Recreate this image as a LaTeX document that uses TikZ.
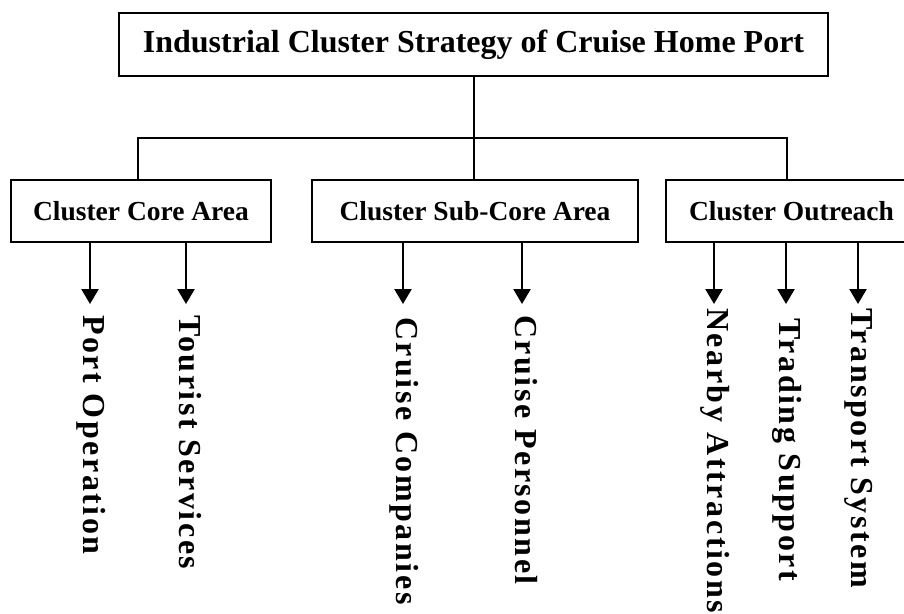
\documentclass[tikz,border=0pt]{standalone}
\usepackage{fontspec}
\setmainfont{Liberation Serif}
\newfontfamily\spacedfont{Liberation Serif}[LetterSpace=8]
\usetikzlibrary{arrows.meta}
\begin{document}
\begin{tikzpicture}[x=1pt,y=-1pt,
  box/.style={draw,line width=1.8pt,inner sep=0pt,font=\fontsize{27.5}{32}\selectfont\bfseries,minimum height=62pt},
  titlebox/.style={draw,line width=1.8pt,inner sep=0pt,font=\fontsize{32}{38}\selectfont\bfseries,minimum height=63pt,minimum width=709pt},
  conn/.style={line width=1.8pt},
  arr/.style={line width=2.4pt,-{Triangle[width=17pt,length=15pt]}},
  leaf/.style={rotate=-90,anchor=west,inner sep=0pt,font=\spacedfont\fontsize{32}{38}\selectfont\bfseries,text height=22pt,text depth=8pt}
]
\useasboundingbox (0,0) rectangle (904,613);

\node[titlebox] (top) at (473.5,44.5) {Industrial Cluster Strategy of Cruise Home Port};
\node[box,minimum width=260pt] (core) at (141,211) {Cluster Core Area};
\node[box,minimum width=326pt] (sub) at (475,211) {Cluster Sub-Core Area};
\node[box,minimum width=251pt] (out) at (791.5,211) {Cluster Outreach};

\coordinate (jl) at (138,138);
\coordinate (jm) at (474,138);
\coordinate (jr) at (787,138);
\draw[conn] (top.south -| jm) -- (sub.north -| jm);
\draw[conn] (core.north -| jl) -- (jl) -- (jr) -- (out.north -| jr);

% leaf tips
\coordinate (t1) at (90,304);
\coordinate (t2) at (186,304);
\coordinate (t3) at (403,304);
\coordinate (t4) at (522,304);
\coordinate (t5) at (714,304);
\coordinate (t6) at (786,304);
\coordinate (t7) at (858,304);

\draw[arr] (core.south -| t1) -- (t1);
\draw[arr] (core.south -| t2) -- (t2);
\draw[arr] (sub.south -| t3) -- (t3);
\draw[arr] (sub.south -| t4) -- (t4);
\draw[arr] (out.south -| t5) -- (t5);
\draw[arr] (out.south -| t6) -- (t6);
\draw[arr] (out.south -| t7) -- (t7);

\node[leaf] (l1) at (90,315) {Port Operation};
\node[leaf] (l2) at (186,315) {Tourist Services};
\node[leaf] (l3) at (403,317) {Cruise Companies};
\node[leaf] (l4) at (522,315) {Cruise Personnel};
\node[leaf] (l5) at (714,308) {Nearby Attractions};
\node[leaf] (l6) at (786,318) {Trading Support};
\node[leaf] (l7) at (858,308) {Transport System};
\end{tikzpicture}
\end{document}
